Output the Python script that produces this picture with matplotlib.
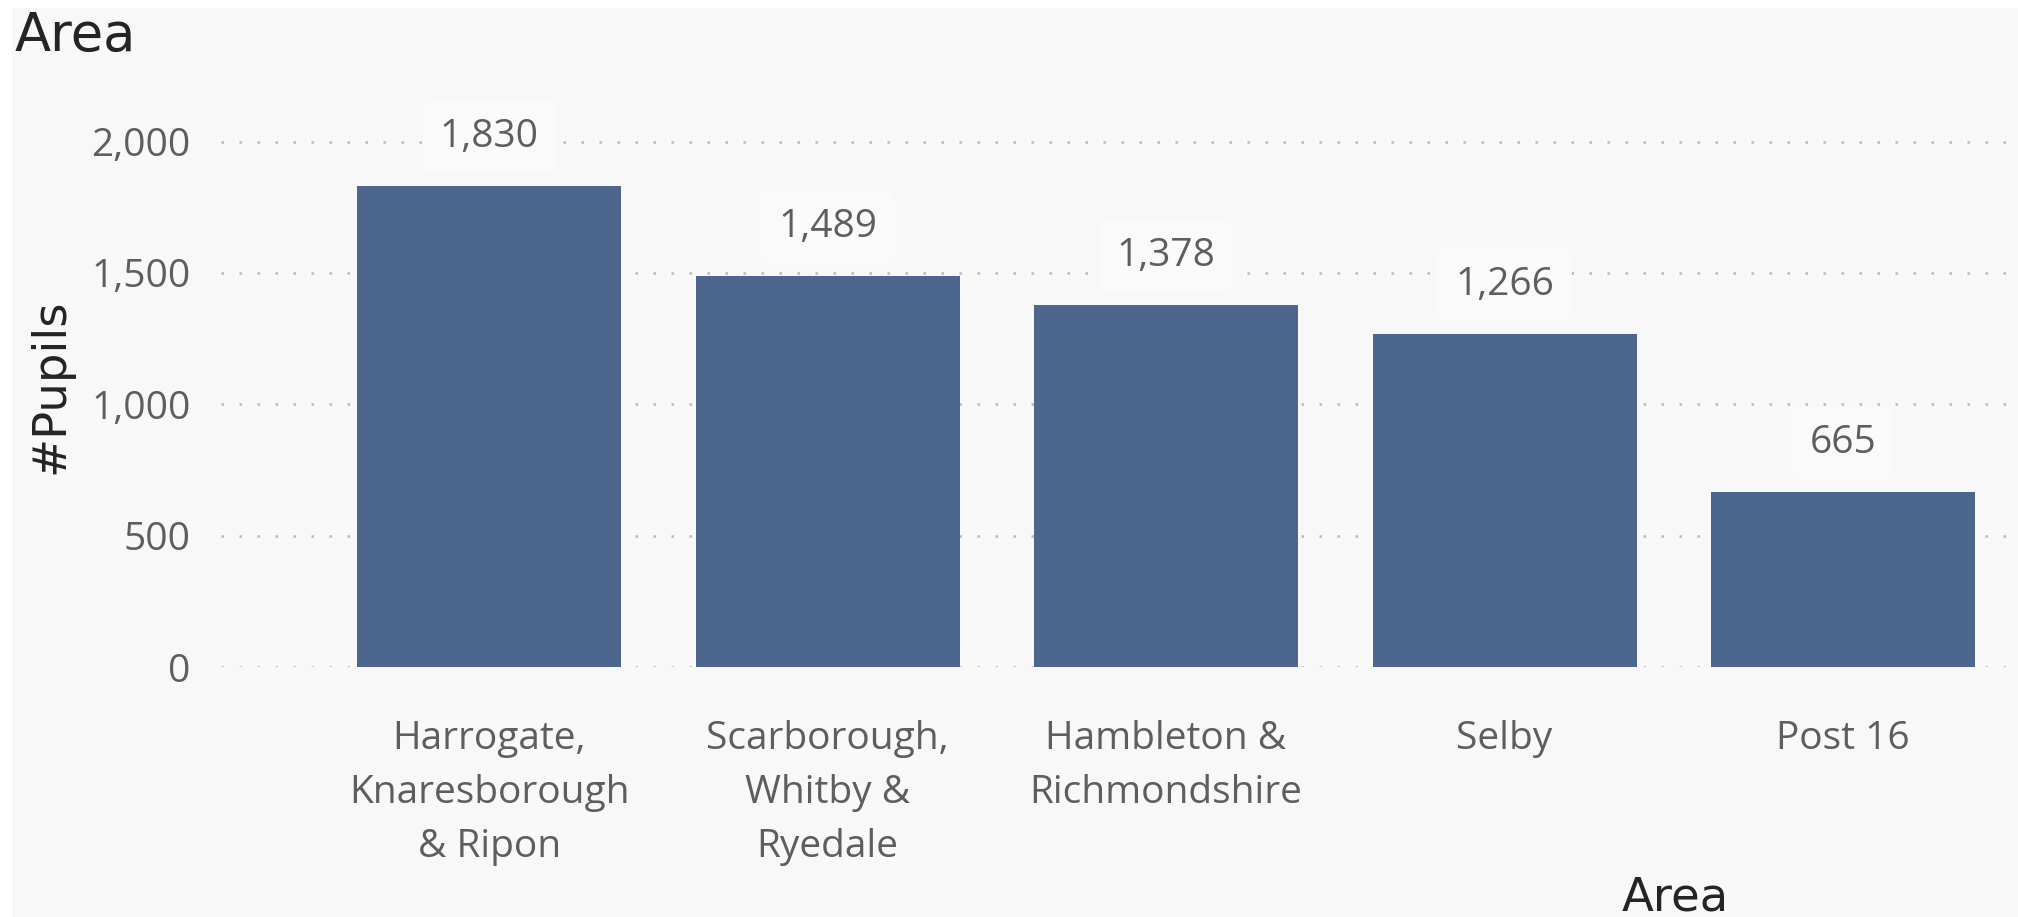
import matplotlib
matplotlib.use("Agg")
import matplotlib.pyplot as plt
from matplotlib.patches import Rectangle
from matplotlib.ticker import FuncFormatter

categories = ["Harrogate,\nKnaresborough\n& Ripon", "Scarborough,\nWhitby &\nRyedale",
              "Hambleton &\nRichmondshire", "Selby", "Post 16"]
pupils = [1830, 1489, 1378, 1266, 665]
y_ticks = [0, 500, 1000, 1500, 2000]

W, H = 2018, 917
fig = plt.figure(figsize=(W / 100, H / 100), dpi=100)
fig.patch.set_facecolor("white")
# light grey canvas with thin white margin
fig.patches.append(Rectangle((12 / W, 0), 1 - 12 / W, 1 - 8 / H, transform=fig.transFigure,
                             facecolor="#F8F8F8", edgecolor="none", zorder=-5))

left_px, right_px = 221, 2018
bottom_px, top_px = 667, 120.6
ax = fig.add_axes([left_px / W, 1 - bottom_px / H, (right_px - left_px) / W, (bottom_px - top_px) / H])
ax.set_facecolor("none")
ax.set_zorder(2)

FS = 28
x = list(range(len(categories)))
ax.bar(x, pupils, width=0.78, color="#4D668E", zorder=3)
ax.set_xlim(-0.792, 4.517)
ax.set_ylim(0, 2080)
ax.set_yticks(y_ticks)
ax.yaxis.set_major_formatter(FuncFormatter(lambda v, p: f"{int(v):,}"))
ax.set_xticks(x)
ax.set_xticklabels(categories, fontfamily="Open Sans", fontsize=FS, color="#605E5C", linespacing=1.55)
for lab in ax.get_yticklabels():
    lab.set_fontfamily("Open Sans")
ax.tick_params(axis="y", length=0, pad=22, labelsize=FS, labelcolor="#605E5C")
ax.tick_params(axis="x", length=0, pad=38)
for s in ax.spines.values():
    s.set_visible(False)
ax.grid(axis="y", color="#B8B8B8", linewidth=1.8, linestyle=(0, (1, 6.2)), zorder=1)
ax.grid(axis="x", visible=False)

for i, v in enumerate(pupils):
    ax.annotate(f"{v:,}", (i, v), xytext=(0, 35.5), textcoords="offset points",
                ha="center", va="center", fontsize=FS, fontfamily="Open Sans", color="#605E5C",
                bbox=dict(boxstyle="round,pad=0.45,rounding_size=0.3", facecolor="#FAFAFA",
                          edgecolor="none"), zorder=4)

fig.text(15 / W, 1 - 51 / H, "Area", fontsize=38, fontfamily="DejaVu Sans", color="#252423",
         ha="left", va="baseline")
fig.text(51 / W, 1 - 386 / H, "#Pupils", fontsize=33.5, fontfamily="DejaVu Sans",
         color="#252423", ha="center", va="center", rotation=90)
fig.text(1675 / W, 1 - 898 / H, "Area", fontsize=33.5, fontfamily="DejaVu Sans",
         color="#252423", ha="center", va="center")

fig.savefig("out.png", dpi=100, facecolor=fig.get_facecolor())
